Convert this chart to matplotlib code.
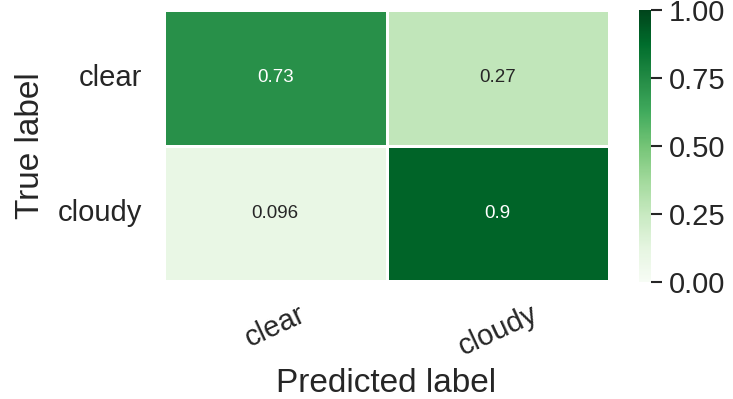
import numpy as np
import matplotlib
matplotlib.use("Agg")
import matplotlib.pyplot as plt
import seaborn as sns

# class names and normalised confusion matrix
classes = ["clear", "cloudy"]
row_clear = [0.73, 0.27]
row_cloudy = [0.096, 0.9]
cbar_ticks = [0, 0.25, 0.5, 0.75, 1.0]

sns.set_theme(style="white")
plt.rcParams['font.family'] = ['Liberation Sans', 'DejaVu Sans']

cm = np.array([row_clear, row_cloudy])

fig = plt.figure(figsize=(7.33, 3.99), dpi=100)
ax = fig.add_axes([164 / 733, 118 / 399, 445 / 733, 271 / 399])
cax = fig.add_axes([639 / 733, 117 / 399, 12 / 733, 272 / 399])

sns.heatmap(cm, annot=True, cmap="Greens", vmin=0, vmax=1, linewidths=2,
            linecolor="white", xticklabels=classes, yticklabels=classes,
            annot_kws={"size": 13.5}, ax=ax, cbar_ax=cax)

ax.set_xlabel("Predicted label", fontsize=24, color=".15", labelpad=5)
ax.set_ylabel("True label", fontsize=24, color=".15", labelpad=8)
ax.tick_params(axis="x", labelsize=21, colors=".15", rotation=25, pad=8)
ax.tick_params(axis="y", labelsize=21, colors=".15", rotation=0, pad=10)
for lab in ax.get_xticklabels():
    lab.set_ha("center")

# colorbar ticks
cax.set_yticks(cbar_ticks)
cax.tick_params(axis="y", which="major", color=".15", length=8, width=1.5,
                direction="out", right=True, left=False, pad=5,
                labelsize=21, labelcolor=".15")

plt.savefig("out.png", dpi=100)
plt.close()
